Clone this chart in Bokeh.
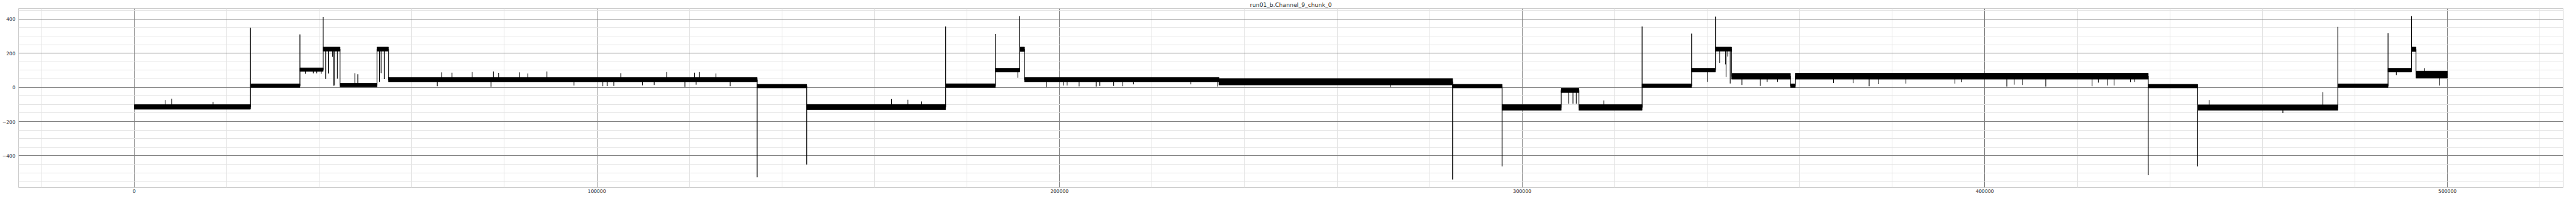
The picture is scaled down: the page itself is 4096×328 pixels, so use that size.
from bokeh.plotting import figure
from bokeh.models import Range1d, SingleIntervalTicker, BasicTickFormatter
from bokeh.embed import file_html
from bokeh.resources import INLINE

title_text = "run01_b.Channel_9_chunk_0"

# noise-band segments of the trace: sample range and band low/high (pA)
seg_start = [0, 25130, 35820, 40850, 44490, 52480, 54960, 134650, 145360, 175390,
             186150, 191400, 192440, 234460, 284970, 295660, 308430, 312270, 325930, 336630,
             341780, 345270, 358000, 359040, 435330, 446010, 476310, 487160, 492240, 493200]
seg_end = seg_start[1:] + [500000]
seg_low = [-128, 0, 94, 212, 3, 212, 32, -3, -130, 0,
           90, 210, 32, 14, -3, -134, -30, -134, 0, 90,
           212, 48, 0, 48, -3, -134, 0, 90, 210, 55]
seg_high = [-101, 20, 114, 236, 24, 236, 58, 18, -100, 21,
            112, 236, 58, 52, 18, -101, -5, -101, 20, 112,
            236, 82, 20, 83, 18, -102, 20, 112, 236, 95]
# spike tip at each boundary between segments (None = plain step)
jump_tip = [349, 310, 412, None, None, None, -526, -452, 356, 313,
            417, None, None, -539, -463, None, None, 356, 315, 414,
            None, None, None, -514, -463, 354, 317, 417, None]

# short spikes inside segments: position and tip value
spike_x = [6679, 8096, 17045,
           36980, 38720, 39460, 40420,
           41380, 42020, 42830, 43150, 43360, 43900,
           47690, 48330, 53020, 53370, 54080,
           65500, 66490, 68690, 73050, 77130, 77620, 78760, 83340,
           85070, 89210, 95060, 101300, 102220, 103660, 105170, 109840, 112390,
           115090, 119030, 121130, 121460, 122180, 125730, 128820,
           163690, 167240, 170190,
           191010,
           197240, 200820, 201650, 204240, 207940, 208710, 211690, 213670, 215990, 228400, 234200,
           271480,
           310090, 310980, 311690, 317650,
           340060, 342720, 343960, 344080, 344440, 344970,
           347510, 351480, 352960, 355210,
           367310, 371540, 375000, 377070, 382950, 393540, 394940,
           404760, 406340, 408180, 413180,
           423180, 424530, 426460, 427940, 431470, 432430,
           448500, 464430, 473080,
           488950, 495060, 498250]
spike_tip = [-74, -67, -85,
             80, 82, 82, 80,
             49, 81, 179, 10, 12, 51,
             83, 77, 32, 83, 48,
             7, 88, 86, 90, 4, 93, 85, 88,
             81, 93, 11, 7, 8, 9, 83, 12, 14,
             90, 3, 86, 16, 90, 81, 7,
             -68, -72, -82,
             57,
             2, 11, 11, 6, 5, 9, 9, 7, 18, 18, 5,
             2,
             -95, -95, -95, -77,
             32, 144, 135, 60, 181, 23,
             14, 9, 32, 32,
             26, 25, 7, 19, 22, 22, 30,
             5, 16, 14, 5,
             7, 28, 11, 11, 30, 32,
             -74, -150, -28,
             72, 113, 11]

S = 0.758
p = figure(width=4080, height=312, output_backend="svg", toolbar_location=None,
           x_range=Range1d(-25000, 525000), y_range=Range1d(-586, 462),
           min_border_left=26, min_border_right=5, min_border_top=13, min_border_bottom=14)

p.title.text = title_text
p.title.align = "center"
p.title.text_font = "DejaVu Sans"
p.title.text_font_size = f"{12 * S:.1f}px"
p.title.text_font_style = "normal"
p.title.text_color = "#262626"
p.title.standoff = 1
p.title.offset = 0

p.background_fill_color = "white"
p.border_fill_color = "white"
p.outline_line_color = "#cccccc"
p.outline_line_width = 1

p.xaxis.ticker = SingleIntervalTicker(interval=100000, num_minor_ticks=5)
p.yaxis.ticker = SingleIntervalTicker(interval=200, num_minor_ticks=4)
p.xaxis.formatter = BasicTickFormatter(use_scientific=False)
p.yaxis.major_label_overrides = {-400: "\u2212400", -200: "\u2212200"}

for ax in (p.xaxis[0], p.yaxis[0]):
    ax.axis_line_color = None
    ax.major_tick_line_color = None
    ax.minor_tick_line_color = None
    ax.major_tick_out = 0
    ax.major_tick_in = 0
    ax.minor_tick_out = 0
    ax.major_label_text_font = "DejaVu Sans"
    ax.major_label_text_font_size = f"{10 * S:.1f}px"
    ax.major_label_text_color = "#333333"
p.xaxis.major_label_standoff = 2
p.yaxis.major_label_standoff = 5

for g in (p.xgrid[0], p.ygrid[0]):
    g.grid_line_color = "#808080"
    g.grid_line_width = 1
    g.minor_grid_line_color = "#e3e3e3"
    g.minor_grid_line_width = 1

# noise bands
p.quad(left=seg_start, right=seg_end, bottom=seg_low, top=seg_high,
       fill_color="black", line_color="black", line_width=0.8)

# step path through band centres with the spikes at each boundary
mids = [(lo + hi) / 2 for lo, hi in zip(seg_low, seg_high)]
xs, ys = [], []
for i in range(len(seg_start)):
    xs += [seg_start[i], seg_end[i]]
    ys += [mids[i], mids[i]]
    if i < len(jump_tip) and jump_tip[i] is not None:
        xs.append(seg_end[i])
        ys.append(jump_tip[i])
p.line(xs, ys, line_color="black", line_width=1.2)

# short spikes, from the centre of the band they sit in
def base_of(x):
    for a, b, m in zip(seg_start, seg_end, mids):
        if a <= x < b:
            return m
    return mids[-1]

spike_base = [base_of(x) for x in spike_x]
p.segment(x0=spike_x, y0=spike_base, x1=spike_x, y1=spike_tip,
          line_color="black", line_width=1.1)

open("out.html", "w").write(file_html(p, INLINE))
